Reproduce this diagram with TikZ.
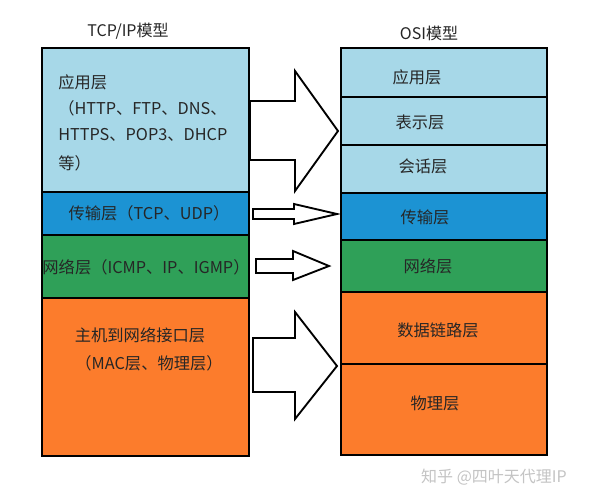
\documentclass[tikz,border=0pt]{standalone}
\usepackage{fontspec}
\setmainfont{Noto Sans CJK SC}
\usetikzlibrary{fit}
\definecolor{lblue}{HTML}{A7D8E8}
\definecolor{dblue}{HTML}{1C93D3}
\definecolor{lgreen}{HTML}{2FA058}
\definecolor{orng}{HTML}{FC7C2C}
\definecolor{wm}{HTML}{C4C4C4}
\begin{document}
\begin{tikzpicture}[x=0.75pt,y=-0.75pt,
  layer/.style={draw=black,line width=1.5pt,inner sep=0pt,rectangle},
  lbl/.style={inner sep=0pt,font=\fontsize{12.2}{14}\selectfont,text=black!85},
  ttl/.style={inner sep=0pt,font=\fontsize{12}{14}\selectfont,text=black!85},
  arr/.style={draw=black,line width=1.4pt,fill=white,line join=miter}]
\useasboundingbox[fill=white] (0,0) rectangle (589,500);
% titles
\node[ttl] (t1) at (128,31) {TCP/IP模型};
\node[ttl] (t2) at (429,33) {OSI模型};
% left stack
\node[layer,fill=lblue,fit={(42,48)(249,192)}] (app) {};
\node[layer,fill=dblue,fit={(42,192)(249,235)}] (tra) {};
\node[layer,fill=lgreen,fit={(42,235)(249,298)}] (net) {};
\node[layer,fill=orng,fit={(42,298)(249,456)}] (host) {};
% right stack
\node[layer,fill=lblue,fit={(341,48)(547,97)}] (oapp) {};
\node[layer,fill=lblue,fit={(341,97)(547,145)}] (opre) {};
\node[layer,fill=lblue,fit={(341,145)(547,193)}] (oses) {};
\node[layer,fill=dblue,fit={(341,193)(547,240)}] (otra) {};
\node[layer,fill=lgreen,fit={(341,240)(547,292)}] (onet) {};
\node[layer,fill=orng,fit={(341,292)(547,364)}] (odl) {};
\node[layer,fill=orng,fit={(341,364)(547,455)}] (ophy) {};
% left texts
\node[lbl,anchor=west] (a1) at (58,82) {应用层};
\node[lbl,anchor=west] (a2) at (58,108) {（HTTP、FTP、DNS、};
\node[lbl,anchor=west] (a3) at (58,135) {HTTPS、POP3、DHCP};
\node[lbl,anchor=west] (a4) at (58,163) {等）};
\node[lbl] (b1) at (149,213) {传输层（TCP、UDP）};
\node[lbl] (c1) at (146,267) {网络层（ICMP、IP、IGMP）};
\node[lbl] (d1) at (140,335) {主机到网络接口层};
\node[lbl] (d2) at (149,363) {（MAC层、物理层）};
% right texts
\node[lbl] (r1) at (417,77) {应用层};
\node[lbl] (r2) at (420,122) {表示层};
\node[lbl] (r3) at (423,166) {会话层};
\node[lbl] (r4) at (425,217) {传输层};
\node[lbl] (r5) at (428,266) {网络层};
\node[lbl] (r6) at (438,330) {数据链路层};
\node[lbl] (r7) at (435,403) {物理层};
% arrows
\draw[arr] (250,101) -- (295,101) -- (295,71) -- (338,131) -- (295,191) -- (295,160) -- (250,160) -- cycle;
\draw[arr] (253,209) -- (294,209) -- (294,204) -- (337,214) -- (294,224) -- (294,219) -- (253,219) -- cycle;
\draw[arr] (256,259) -- (293,259) -- (293,251) -- (329,266) -- (293,280) -- (293,273) -- (256,273) -- cycle;
\draw[arr] (253,338) -- (295,338) -- (295,312) -- (337,366) -- (295,419) -- (295,392) -- (253,392) -- cycle;
% watermark
\node[inner sep=0pt,font=\fontsize{12}{14}\selectfont,text=wm] (wmk) at (494,477) {知乎 @四叶天代理IP};
\end{tikzpicture}
\end{document}
